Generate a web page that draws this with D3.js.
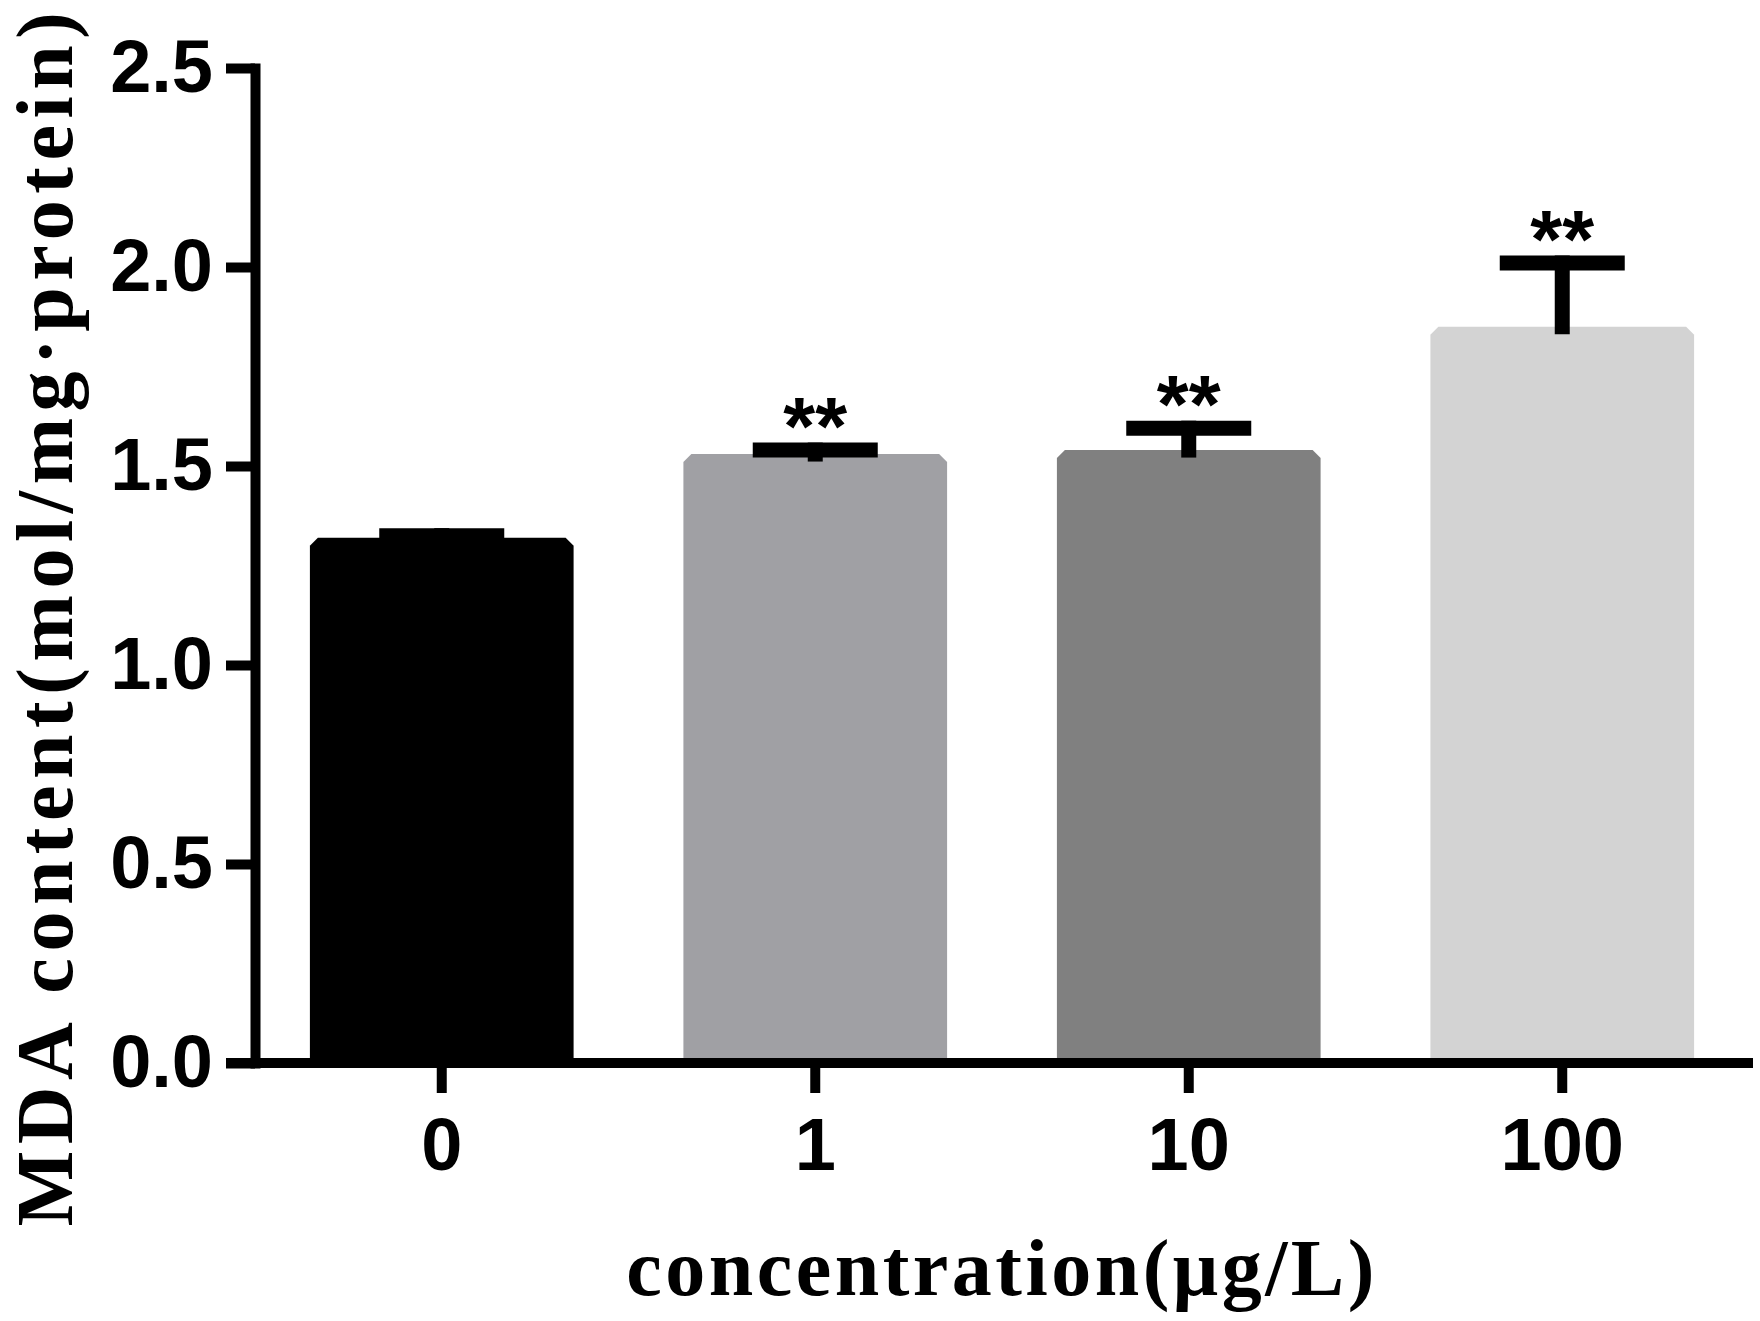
<!DOCTYPE html>
<html>
<head>
<meta charset="utf-8">
<script src="https://cdn.jsdelivr.net/npm/d3@7"></script>
<style>
  body { margin: 0; background: #fff; }
  .tick text { font-family: Arial, "Liberation Sans", sans-serif; font-weight: bold; font-size: 74px; fill: #000; }
  .title { font-family: "Times New Roman", "Liberation Serif", serif; font-weight: bold; fill: #000; }
  .star { font-family: Arial, "Liberation Sans", sans-serif; font-weight: bold; font-size: 82px; fill: #000; }
</style>
</head>
<body>
<script>
// data
const categories = ["0", "1", "10", "100"];
const means = [1.32, 1.53, 1.54, 1.85];
const sems = [0.005, 0.01, 0.055, 0.16];
const barColors = ["#000000", "#a0a0a4", "#808080", "#d3d3d3"];
const signif = ["", "**", "**", "**"];
const yTicks = [0, 0.5, 1.0, 1.5, 2.0, 2.5];

const W = 1760, H = 1321;
const margin = { left: 255, top: 68, right: 11, bottom: 258 };
const width = W - margin.left - margin.right,
    height = H - margin.top - margin.bottom;
const axisW = 10, errW = 15, capW = 125, chamfer = 8;

const svg = d3.select("body").append("svg")
    .attr("width", W)
    .attr("height", H);

const g = svg.append("g")
    .attr("transform", `translate(${margin.left}, ${margin.top})`);

const x = d3.scaleBand()
    .domain(categories)
    .range([0, width])
    .paddingInner(0.294)
    .paddingOuter(0.147);

const y = d3.scaleLinear()
    .domain([0, 2.5])
    .range([height, 0]);

const data = categories.map((c, i) => ({ cat: c, mean: means[i], sem: sems[i], color: barColors[i], sig: signif[i] }));

// bars, with the small cut corners at the top
g.selectAll(".bar")
    .data(data)
    .enter().append("path")
    .attr("class", "bar")
    .attr("fill", d => d.color)
    .attr("d", d => {
        const x0 = x(d.cat), x1 = x0 + x.bandwidth(), top = y(d.mean), base = y(0);
        return `M${x0},${base}V${top + chamfer}L${x0 + chamfer},${top}H${x1 - chamfer}L${x1},${top + chamfer}V${base}Z`;
    });

// error bars (upper only)
const err = g.selectAll(".err")
    .data(data)
    .enter().append("g")
    .attr("class", "err");

err.append("line")
    .attr("x1", d => x(d.cat) + x.bandwidth() / 2)
    .attr("x2", d => x(d.cat) + x.bandwidth() / 2)
    .attr("y1", d => y(d.mean))
    .attr("y2", d => y(d.mean + d.sem))
    .attr("stroke", "#000")
    .attr("stroke-width", errW)
    .attr("stroke-linecap", "square");

err.append("line")
    .attr("x1", d => x(d.cat) + x.bandwidth() / 2 - capW / 2)
    .attr("x2", d => x(d.cat) + x.bandwidth() / 2 + capW / 2)
    .attr("y1", d => y(d.mean + d.sem))
    .attr("y2", d => y(d.mean + d.sem))
    .attr("stroke", "#000")
    .attr("stroke-width", errW);

g.selectAll(".star")
    .data(data.filter(d => d.sig))
    .enter().append("text")
    .attr("class", "star")
    .attr("text-anchor", "middle")
    .attr("x", d => x(d.cat) + x.bandwidth() / 2)
    .attr("y", d => y(d.mean + d.sem) + 4)
    .text(d => d.sig);

// y axis
const yAxisCall = d3.axisLeft(y)
    .tickValues(yTicks)
    .tickFormat(d3.format(".1f"))
    .tickSize(29)
    .tickSizeOuter(0)
    .tickPadding(13);

const yAxisGroup = g.append("g").call(yAxisCall);
yAxisGroup.select(".domain")
    .attr("stroke", "#000")
    .attr("stroke-width", axisW)
    .attr("stroke-linecap", "square");
yAxisGroup.selectAll(".tick line")
    .attr("stroke", "#000")
    .attr("stroke-width", axisW);

// x axis
const xAxisCall = d3.axisBottom(x)
    .tickSize(30)
    .tickSizeOuter(0)
    .tickPadding(24);

const xAxisGroup = g.append("g")
    .attr("transform", `translate(0, ${height})`)
    .call(xAxisCall);
xAxisGroup.select(".domain").remove();
xAxisGroup.selectAll(".tick line")
    .attr("stroke", "#000")
    .attr("stroke-width", axisW);
xAxisGroup.append("line")
    .attr("x1", -29)
    .attr("x2", width + 4)
    .attr("stroke", "#000")
    .attr("stroke-width", axisW);

// titles
svg.append("text")
    .attr("class", "title")
    .attr("text-anchor", "middle")
    .attr("transform", "translate(72, 616) rotate(-90)")
    .style("font-size", "80px")
    .style("letter-spacing", "6.5px")
    .text("MDA content(mol/mg·protein)");

svg.append("text")
    .attr("class", "title")
    .attr("text-anchor", "middle")
    .attr("x", margin.left + width / 2)
    .attr("y", 1295)
    .style("font-size", "80px")
    .style("letter-spacing", "3.5px")
    .text("concentration(μg/L)");
</script>
</body>
</html>
